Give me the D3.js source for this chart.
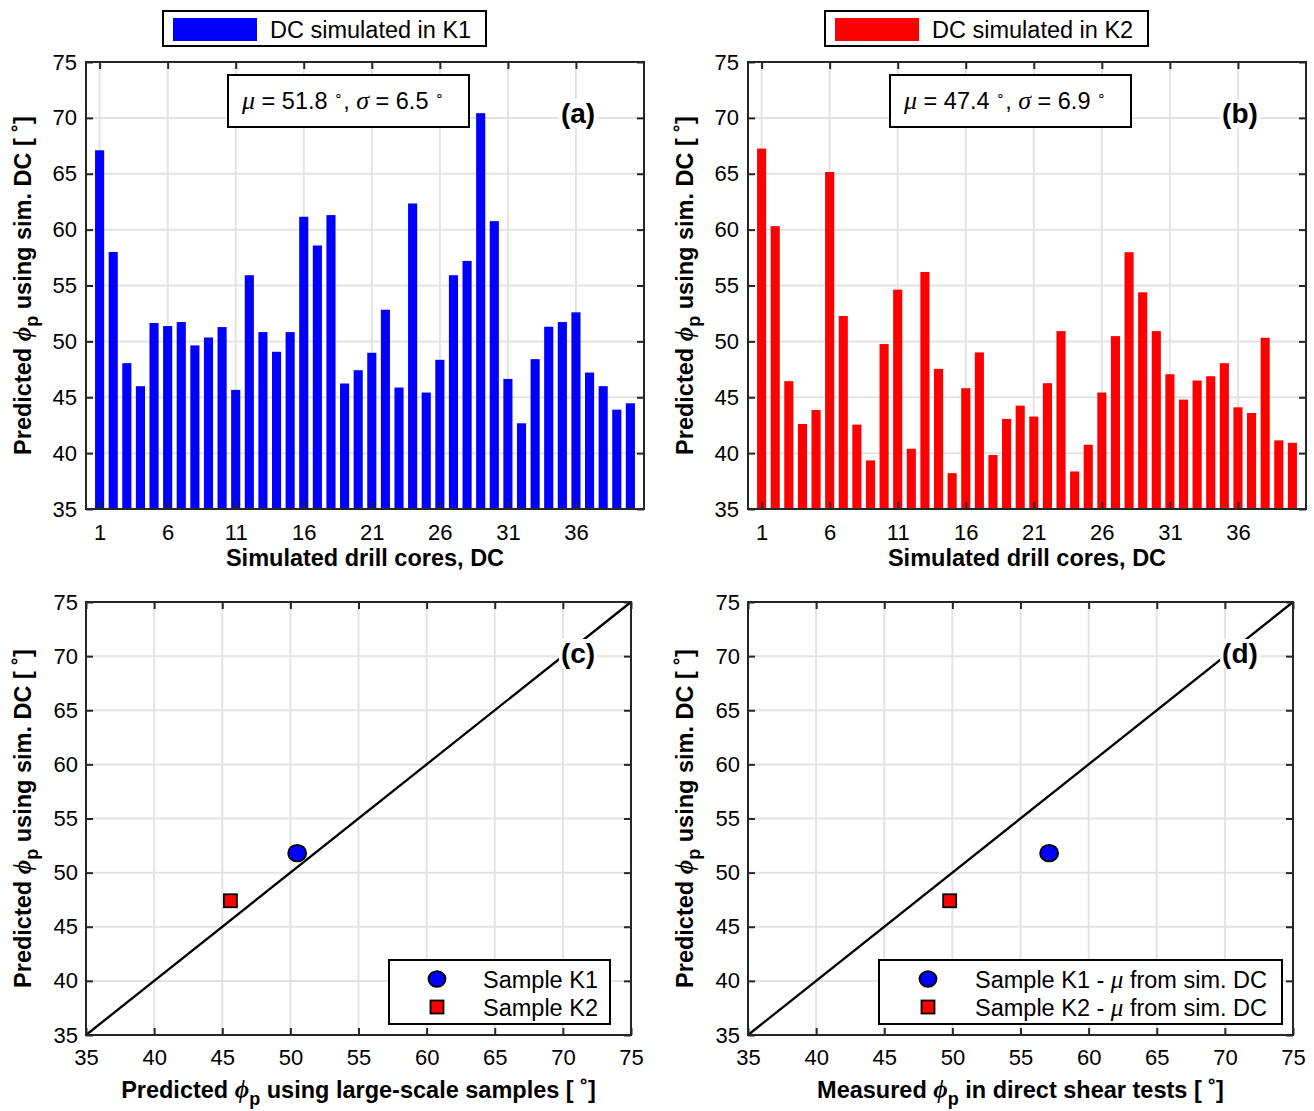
<!DOCTYPE html>
<html>
<head>
<meta charset="utf-8">
<script src="https://cdn.jsdelivr.net/npm/d3@7"></script>
<style>
  body { margin: 0; background: #fff; }
  svg { display: block; }
</style>
</head>
<body>
<svg id="fig" width="1314" height="1111"></svg>
<script>
// ---- data -------------------------------------------------------------
const coreIds = d3.range(1, 41);           // simulated drill cores DC 1..40
const phiK1 = [67.1, 58.0, 48.05, 45.99, 51.64, 51.37, 51.73, 49.64, 50.35, 51.28,
               45.66, 55.92, 50.83, 49.07, 50.83, 61.15, 58.58, 61.30, 46.23, 47.42,
               48.98, 52.83, 45.87, 62.34, 45.42, 48.35, 55.92, 57.20, 70.42, 60.76,
               46.64, 42.67, 48.41, 51.31, 51.73, 52.60, 47.21, 45.99, 43.89, 44.46];
const phiK2 = [67.25, 60.31, 46.44, 42.61, 43.86, 65.16, 52.27, 42.55, 39.35, 49.76,
               54.63, 40.39, 56.21, 47.54, 38.21, 45.81, 49.01, 39.83, 43.06, 44.25,
               43.27, 46.26, 50.92, 38.36, 40.75, 45.42, 50.47, 57.98, 54.39, 50.92,
               47.06, 44.79, 46.50, 46.88, 48.05, 44.10, 43.59, 50.32, 41.14, 40.93];
const coreTicks = [1, 6, 11, 16, 21, 26, 31, 36];
const phiTicks = [35, 40, 45, 50, 55, 60, 65, 70, 75];
const samples = ["K1", "K2"];
const muSimDC = [51.8, 47.4];              // mean of the simulated drill cores
const sigmaSimDC = [6.5, 6.9];
const phiLargeScale = [50.5, 45.6];        // predicted from large-scale samples
const phiDirectShear = [57.1, 49.8];       // measured in direct shear tests

// ---- styling ----------------------------------------------------------
const FONT = '"Liberation Sans", Arial, Helvetica, sans-serif';
const SERIF = '"Liberation Serif", "DejaVu Serif", serif';
const AX = "#262626", GRID = "#e3e3e3";
const BLUE = "#0000ff", RED = "#ff0000";
const TICK_FS = 22, LABEL_FS = 23.5, LEGEND_FS = 23.5;

const svg = d3.select("#fig").attr("font-family", FONT);

const boxes = {
  a: { x0: 86,  x1: 644,  y0: 62,  y1: 509 },
  b: { x0: 748, x1: 1306, y0: 62,  y1: 509 },
  c: { x0: 86,  x1: 631,  y0: 602, y1: 1035 },
  d: { x0: 748, x1: 1293, y0: 602, y1: 1035 }
};

// rich text: parts = [{t, italic, serif, sub, sup, size}]
function richText(sel, parts) {
  let shift = 0;
  parts.forEach(p => {
    const ts = sel.append("tspan").text(p.t);
    if (p.italic) ts.attr("font-style", "italic");
    if (p.serif) ts.attr("font-family", SERIF);
    if (p.size) ts.attr("font-size", p.size);
    const want = p.sub ? 7 : (p.sup ? -9 : 0);
    if (want !== shift) { ts.attr("dy", want - shift); shift = want; }
  });
  return sel;
}

function makeAxes(box, xDomain, xTicks, yTicks) {
  const g = svg.append("g");
  const x = d3.scaleLinear().domain(xDomain).range([box.x0, box.x1]);
  const y = d3.scaleLinear().domain([35, 75]).range([box.y1, box.y0]);
  const grid = g.append("g").attr("stroke", GRID).attr("stroke-width", 2);
  grid.selectAll(".gx").data(xTicks.filter(t => x(t) > box.x0 + 1 && x(t) < box.x1 - 1)).join("line")
    .attr("class", "gx")
    .attr("x1", d => x(d)).attr("x2", d => x(d)).attr("y1", box.y0).attr("y2", box.y1);
  grid.selectAll(".gy").data(yTicks.filter(t => t > 35 && t < 75)).join("line")
    .attr("class", "gy")
    .attr("y1", d => y(d)).attr("y2", d => y(d)).attr("x1", box.x0).attr("x2", box.x1);
  const plot = g.append("g");
  const frame = g.append("g");
  const ax = { x, y, plot, frame, box, g };

  const style = sel => {
    sel.select(".domain").remove();
    sel.selectAll(".tick line").attr("stroke", AX).attr("stroke-width", 2);
    sel.selectAll(".tick text").attr("fill", "#000").attr("font-family", FONT).attr("font-size", TICK_FS);
  };
  ax.finish = (padX, padY) => {
    frame.append("g").attr("transform", `translate(0,${box.y1})`)
      .call(d3.axisBottom(x).tickValues(xTicks).tickSizeInner(-7).tickSizeOuter(0).tickPadding(padX)).call(style);
    frame.append("g").attr("transform", `translate(0,${box.y0})`)
      .call(d3.axisTop(x).tickValues(xTicks).tickSizeInner(-7).tickSizeOuter(0).tickFormat(() => "")).call(style);
    frame.append("g").attr("transform", `translate(${box.x0},0)`)
      .call(d3.axisLeft(y).tickValues(yTicks).tickSizeInner(-7).tickSizeOuter(0).tickPadding(padY)).call(style);
    frame.append("g").attr("transform", `translate(${box.x1},0)`)
      .call(d3.axisRight(y).tickValues(yTicks).tickSizeInner(-7).tickSizeOuter(0).tickFormat(() => "")).call(style);
    frame.append("rect")
      .attr("x", box.x0).attr("y", box.y0).attr("width", box.x1 - box.x0).attr("height", box.y1 - box.y0)
      .attr("fill", "none").attr("stroke", AX).attr("stroke-width", 2);
  };
  return ax;
}

function yLabel(ax, parts) {
  const t = ax.g.append("text")
    .attr("transform", `translate(${ax.box.x0 - 55},${(ax.box.y0 + ax.box.y1) / 2}) rotate(-90)`)
    .attr("text-anchor", "middle").attr("font-weight", "bold").attr("font-size", LABEL_FS);
  richText(t, parts);
}
function xLabel(ax, dy, parts) {
  const t = ax.g.append("text")
    .attr("x", (ax.box.x0 + ax.box.x1) / 2).attr("y", ax.box.y1 + dy)
    .attr("text-anchor", "middle").attr("font-weight", "bold").attr("font-size", LABEL_FS);
  richText(t, parts);
}
function panelTag(ax, cx, cy, tag) {
  const t = ax.g.append("text").attr("x", cx).attr("y", cy + 10)
    .attr("text-anchor", "middle").attr("font-weight", "bold").attr("font-size", 28).text(tag);
  const bb = t.node().getBBox();
  ax.g.insert("rect", () => t.node())
    .attr("x", bb.x - 2).attr("y", bb.y + 1).attr("width", bb.width + 4).attr("height", bb.height - 2)
    .attr("fill", "#fff");
}

const phiY = [
  { t: "Predicted " }, { t: "ϕ", italic: true, serif: true, size: 25 }, { t: "p", sub: true, size: 18 },
  { t: " using sim. DC [ ˚]" }
];

// ---- (a), (b): bar charts per simulated drill core ---------------------
function barPanel(box, values, color, sample, mu, sigma, tag, legendX) {
  const ax = makeAxes(box, [0, 41], coreTicks, phiTicks);
  const step = ax.x(1) - ax.x(0);
  const bw = step * 0.67;
  ax.plot.selectAll("rect").data(values).join("rect")
    .attr("x", (d, i) => ax.x(coreIds[i]) - bw / 2)
    .attr("width", bw)
    .attr("y", d => ax.y(d))
    .attr("height", d => ax.y(35) - ax.y(d))
    .attr("fill", color);
  ax.finish(15, 9);
  yLabel(ax, phiY);
  xLabel(ax, 57, [{ t: "Simulated drill cores, DC" }]);

  // statistics box
  const sb = { x: box.x0 + 142, y: 75, w: 241, h: 52 };
  ax.g.append("rect").attr("x", sb.x).attr("y", sb.y).attr("width", sb.w).attr("height", sb.h)
    .attr("fill", "#fff").attr("stroke", "#000").attr("stroke-width", 2);
  const st = ax.g.append("text").attr("x", sb.x + 14).attr("y", sb.y + 34).attr("font-size", 23.5);
  richText(st, [
    { t: "μ", italic: true, serif: true, size: 26 }, { t: " = " + mu.toFixed(1) + " " },
    { t: "∘", size: 14, sup: true }, { t: ", " },
    { t: "σ", italic: true, serif: true, size: 26 }, { t: " = " + sigma.toFixed(1) + " " },
    { t: "∘", size: 14, sup: true }
  ]);
  panelTag(ax, box.x0 + 492, 113, tag);

  // legend above the axes
  const lg = svg.append("g").attr("transform", `translate(${legendX},11)`);
  lg.append("rect").attr("width", 323).attr("height", 35)
    .attr("fill", "#fff").attr("stroke", "#000").attr("stroke-width", 2);
  lg.append("rect").attr("x", 10).attr("y", 7).attr("width", 84).attr("height", 23).attr("fill", color);
  lg.append("text").attr("x", 107).attr("y", 26.5).attr("font-size", LEGEND_FS)
    .text(`DC simulated in ${sample}`);
}

barPanel(boxes.a, phiK1, BLUE, samples[0], muSimDC[0], sigmaSimDC[0], "(a)", 163);
barPanel(boxes.b, phiK2, RED, samples[1], muSimDC[1], sigmaSimDC[1], "(b)", 825);

// ---- (c), (d): scatter against the 1:1 line ---------------------------
function scatterPanel(box, xs, tag, xParts, legendBox, legendText) {
  const ax = makeAxes(box, [35, 75], phiTicks, phiTicks);
  ax.plot.append("line")
    .attr("x1", ax.x(35)).attr("y1", ax.y(35)).attr("x2", ax.x(75)).attr("y2", ax.y(75))
    .attr("stroke", "#000").attr("stroke-width", 2.3);
  panelTag(ax, box.x0 + 492, 653, tag);
  ax.plot.append("ellipse")
    .attr("cx", ax.x(xs[0])).attr("cy", ax.y(muSimDC[0])).attr("rx", 9).attr("ry", 8.3)
    .attr("fill", BLUE).attr("stroke", "#000").attr("stroke-width", 1.8);
  ax.plot.append("rect")
    .attr("x", ax.x(xs[1]) - 6.5).attr("y", ax.y(muSimDC[1]) - 6.5).attr("width", 13).attr("height", 13)
    .attr("fill", RED).attr("stroke", "#000").attr("stroke-width", 1.8);
  ax.finish(14, 8);
  yLabel(ax, phiY);
  xLabel(ax, 63, xParts);

  // legend
  const lg = ax.g.append("g").attr("transform", `translate(${legendBox.x},${legendBox.y})`);
  lg.append("rect").attr("width", legendBox.w).attr("height", 64)
    .attr("fill", "#fff").attr("stroke", "#000").attr("stroke-width", 2);
  lg.append("ellipse").attr("cx", legendBox.mx).attr("cy", 19).attr("rx", 8.5).attr("ry", 7.8)
    .attr("fill", BLUE).attr("stroke", "#000").attr("stroke-width", 1.8);
  lg.append("rect").attr("x", legendBox.mx - 6.5).attr("y", 40.5).attr("width", 13).attr("height", 13)
    .attr("fill", RED).attr("stroke", "#000").attr("stroke-width", 1.8);
  samples.forEach((s, i) => {
    const t = lg.append("text").attr("x", legendBox.tx).attr("y", 27.5 + i * 28).attr("font-size", LEGEND_FS);
    richText(t, legendText(s));
  });
}

scatterPanel(boxes.c, phiLargeScale, "(c)",
  [{ t: "Predicted " }, { t: "ϕ", italic: true, serif: true, size: 25 }, { t: "p", sub: true, size: 18 },
   { t: " using large-scale samples [ ˚]" }],
  { x: 389, y: 960, w: 221, mx: 48, tx: 94 },
  s => [{ t: "Sample " + s }]);

scatterPanel(boxes.d, phiDirectShear, "(d)",
  [{ t: "Measured " }, { t: "ϕ", italic: true, serif: true, size: 25 }, { t: "p", sub: true, size: 18 },
   { t: " in direct shear tests [ ˚]" }],
  { x: 879, y: 960, w: 403, mx: 49, tx: 96 },
  s => [{ t: "Sample " + s + " - " }, { t: "μ", italic: true, serif: true, size: 25 }, { t: " from sim. DC" }]);
</script>
</body>
</html>
